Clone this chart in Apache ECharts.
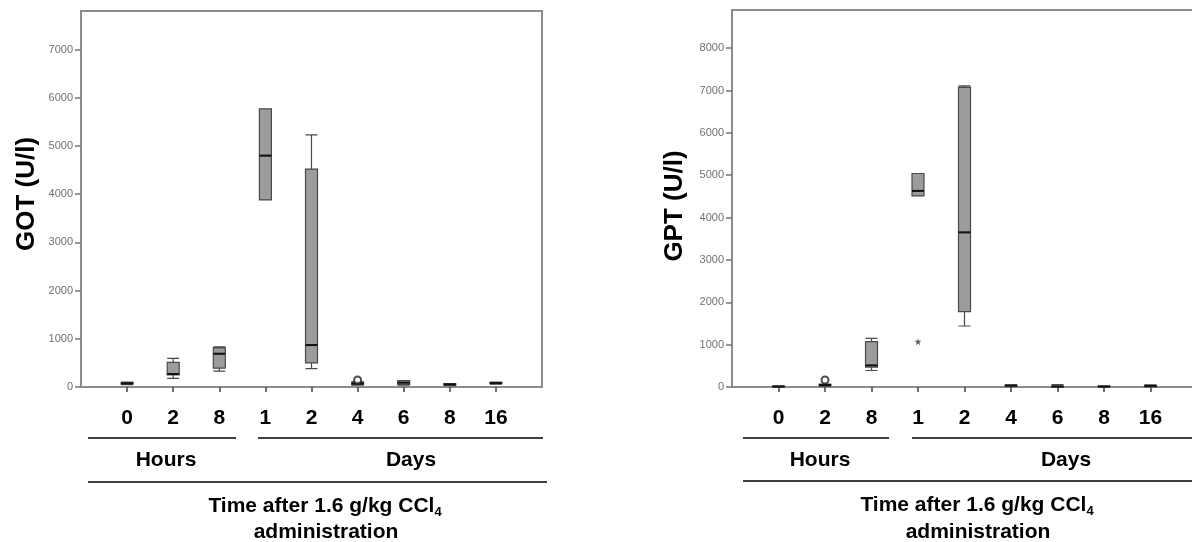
<!DOCTYPE html>
<html>
<head>
<meta charset="utf-8">
<script src="https://cdn.jsdelivr.net/npm/echarts@6/dist/echarts.min.js"></script>
<style>
html,body{margin:0;padding:0;background:#fff;}
#chart{width:1192px;height:542px;}
</style>
</head>
<body>
<div id="chart"></div>
<script>
// ---- data ----
const categories = ['0', '2', '8', '1', '2', '4', '6', '8', '16'];
// [min, Q1, median, Q3, max]
const gotBoxes = [
  [50, 60, 75, 90, 100],
  [180, 250, 270, 512, 594],
  [330, 390, 690, 810, 835],
  [3880, 3880, 4800, 5770, 5770],
  [380, 500, 870, 4520, 5230],
  [40, 50, 70, 95, 110],
  [40, 50, 90, 130, 135],
  [30, 40, 55, 65, 70],
  [60, 70, 80, 90, 100]
];
const gptBoxes = [
  [0, 5, 10, 20, 25],
  [20, 30, 45, 60, 70],
  [390, 470, 510, 1070, 1150],
  [4510, 4510, 4630, 5040, 5040],
  [1440, 1780, 3650, 7075, 7110],
  [10, 20, 35, 45, 50],
  [0, 5, 10, 20, 55],
  [0, 5, 10, 20, 25],
  [0, 10, 25, 40, 50]
];
// outliers: [category index (0-based), value]
const gotCircles = [[5, 145]];
const gptCircles = [[1, 165]];
const gptStars = [[3, 1070]];
const gotTicks = [0, 1000, 2000, 3000, 4000, 5000, 6000, 7000];
const gptTicks = [0, 1000, 2000, 3000, 4000, 5000, 6000, 7000, 8000];
const gotMax = 7800;
const gptMax = 8900;

// ---- build ----
const axisData = [''].concat(categories, ['']);
const FONT = '"Liberation Sans", Arial, sans-serif';
const frameColor = '#8c8c8c';

function toBox(arr) { return arr.map((b, i) => [i + 1].concat(b)); }
function toMed(arr) { return arr.map((b, i) => [i + 1, b[2]]); }
function toPts(arr) { return arr.map(p => [p[0] + 1, p[1]]); }

function xAxisFor(gi) {
  return {
    type: 'category', gridIndex: gi, data: axisData, boundaryGap: false,
    axisLine: { show: true, lineStyle: { color: frameColor, width: 2 } },
    axisTick: { show: true, length: 5, interval: (i) => i > 0 && i < axisData.length - 1,
      lineStyle: { color: '#444', width: 1.5 } },
    axisLabel: { interval: 0, color: '#000', fontSize: 21, fontWeight: 'bold', fontFamily: FONT, margin: 21 },
    splitLine: { show: false }
  };
}
function yAxisFor(gi, max, ticks) {
  return {
    type: 'value', gridIndex: gi, min: 0, max: max, interval: 1000,
    axisLine: { show: true, lineStyle: { color: frameColor, width: 2 } },
    axisTick: { show: true, length: 6, customValues: ticks, lineStyle: { color: '#777', width: 1.5 } },
    axisLabel: { customValues: ticks, formatter: (v) => String(v), color: '#707070', fontSize: 11,
      fontFamily: FONT, margin: 8 },
    splitLine: { show: false }
  };
}
function medianSeries(gi, arr) {
  return {
    type: 'custom', xAxisIndex: gi, yAxisIndex: gi, data: toMed(arr), z: 5,
    renderItem: function (params, api) {
      const p = api.coord([api.value(0), api.value(1)]);
      return { type: 'line', shape: { x1: p[0] - 6, y1: p[1], x2: p[0] + 6, y2: p[1] },
        style: { stroke: '#111', lineWidth: 2 } };
    }
  };
}
function boxSeries(gi, arr) {
  return {
    type: 'boxplot', xAxisIndex: gi, yAxisIndex: gi, data: toBox(arr),
    encode: { x: 0, y: [1, 2, 3, 4, 5] },
    boxWidth: [12, 12],
    itemStyle: { color: '#9c9c9c', borderColor: '#4a4a4a', borderWidth: 1.2 }
  };
}
const starPath = 'path://M50,0 L61,35 L98,35 L68,57 L79,91 L50,70 L21,91 L32,57 L2,35 L39,35 Z';

function lineG(x1, y1, x2, y2) {
  return { type: 'line', shape: { x1, y1, x2, y2 }, style: { stroke: '#000', lineWidth: 1.5 } };
}
function textG(x, y, text, size, rot) {
  return { type: 'text', x, y, rotation: rot || 0,
    style: { text, fontSize: size, fontWeight: 'bold', fontFamily: FONT, fill: '#000',
      align: 'center', verticalAlign: 'middle' } };
}
function titleG(x, y) {
  return { type: 'text', x, y,
    style: { text: 'Time after 1.6 g/kg CCl{sub|4}', fontSize: 21, fontWeight: 'bold', fontFamily: FONT,
      fill: '#000', align: 'center', verticalAlign: 'middle',
      rich: { sub: { fontSize: 13, fontWeight: 'bold', fontFamily: FONT, fill: '#000', padding: [12, 0, 0, 0] } } } };
}

const chart = echarts.init(document.getElementById('chart'));
chart.setOption({
  animation: false,
  backgroundColor: '#fff',
  grid: [
    { left: 81, top: 11, width: 461, height: 376, show: true, borderColor: frameColor, borderWidth: 2,
      outerBoundsMode: 'none' },
    { left: 732, top: 10, width: 465, height: 377, show: true, borderColor: frameColor, borderWidth: 2,
      outerBoundsMode: 'none' }
  ],
  xAxis: [xAxisFor(0), xAxisFor(1)],
  yAxis: [yAxisFor(0, gotMax, gotTicks), yAxisFor(1, gptMax, gptTicks)],
  series: [
    boxSeries(0, gotBoxes),
    medianSeries(0, gotBoxes),
    { type: 'scatter', xAxisIndex: 0, yAxisIndex: 0, data: toPts(gotCircles), symbol: 'emptyCircle', symbolSize: 7,
      itemStyle: { color: '#222', borderWidth: 1.2 }, z: 6 },
    boxSeries(1, gptBoxes),
    medianSeries(1, gptBoxes),
    { type: 'scatter', xAxisIndex: 1, yAxisIndex: 1, data: toPts(gptCircles), symbol: 'emptyCircle', symbolSize: 7,
      itemStyle: { color: '#222', borderWidth: 1.2 }, z: 6 },
    { type: 'scatter', xAxisIndex: 1, yAxisIndex: 1, data: toPts(gptStars), symbol: starPath, symbolSize: 7,
      itemStyle: { color: '#333' }, z: 6 }
  ],
  graphic: [
    textG(27, 194, 'GOT (U/l)', 26, Math.PI / 2),
    textG(675, 206, 'GPT (U/l)', 26, Math.PI / 2),
    lineG(88, 438, 236, 438), lineG(258, 438, 543, 438), lineG(88, 482, 547, 482),
    textG(166, 460, 'Hours', 21), textG(411, 460, 'Days', 21),
    titleG(325, 506), textG(326, 532, 'administration', 21),
    lineG(743, 438, 889, 438), lineG(912, 438, 1192, 438), lineG(743, 481, 1192, 481),
    textG(820, 460, 'Hours', 21), textG(1066, 460, 'Days', 21),
    titleG(977, 505), textG(978, 532, 'administration', 21)
  ]
});
</script>
</body>
</html>
